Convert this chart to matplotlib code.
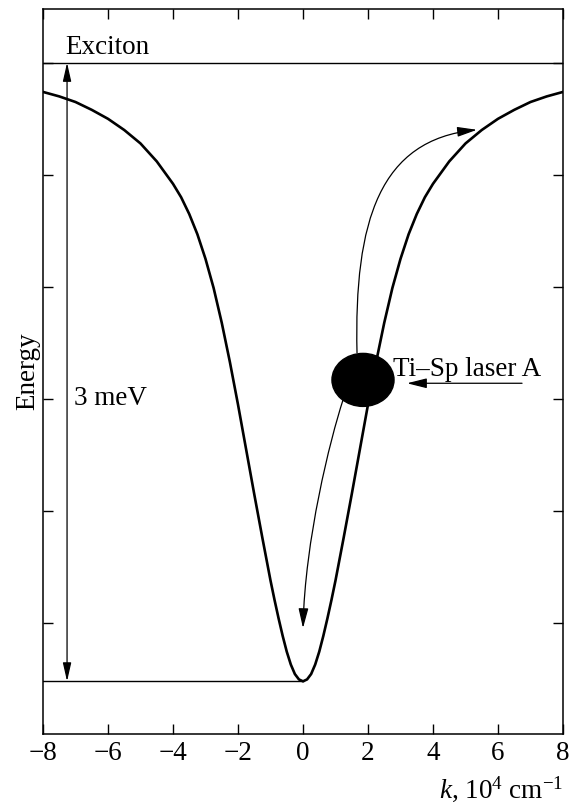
import matplotlib
matplotlib.use("Agg")
import matplotlib.pyplot as plt
from matplotlib.patches import Ellipse, FancyArrowPatch
from matplotlib.path import Path

# ---- data (energy in arbitrary units, 1 unit = one y tick) ----
k_right = [0, 0.125, 0.25, 0.375, 0.5, 0.625, 0.75, 0.875, 1.0, 1.25, 1.5, 1.75, 2.0,
           2.25, 2.5, 2.75, 3.0, 3.25, 3.5, 3.75, 4.0, 4.5, 5.0, 5.5, 6.0, 6.5, 7.0, 7.5, 8.0]
e_right = [0.48, 0.497, 0.545, 0.63, 0.745, 0.885, 1.04, 1.205, 1.38, 1.76, 2.15, 2.55, 2.95,
           3.33, 3.68, 3.99, 4.25, 4.47, 4.65, 4.80, 4.92, 5.12, 5.28, 5.40, 5.50, 5.58, 5.65, 5.70, 5.74]
k_left = [-8.0, -7.5, -7.0, -6.5, -6.0, -5.5, -5.0, -4.5, -4.0, -3.75, -3.5, -3.25, -3.0,
          -2.75, -2.5, -2.25, -2.0, -1.75, -1.5, -1.25, -1.0, -0.875, -0.75, -0.625, -0.5,
          -0.375, -0.25, -0.125]
e_left = [5.74, 5.70, 5.65, 5.58, 5.50, 5.40, 5.28, 5.12, 4.92, 4.80, 4.65, 4.47, 4.25,
          3.99, 3.68, 3.33, 2.95, 2.55, 2.15, 1.76, 1.38, 1.205, 1.04, 0.885, 0.745,
          0.63, 0.545, 0.497]

exciton_level = 6.0
bottom_level = 0.48
arrow_k = -7.26

x_ticks = [-8, -6, -4, -2, 0, 2, 4, 6, 8]
x_ticklabels = ["\u22128", "\u22126", "\u22124", "\u22122", "0", "2", "4", "6", "8"]
y_ticks = [1, 2, 3, 4, 5, 6]

plt.rcParams['font.family'] = ['Liberation Serif', 'DejaVu Serif']
plt.rcParams['mathtext.fontset'] = 'custom'
plt.rcParams['mathtext.rm'] = 'Liberation Serif'
plt.rcParams['mathtext.it'] = 'Liberation Serif:italic'

FS = 19.5

fig = plt.figure(figsize=(5.72, 8.06), dpi=100)
ax = fig.add_axes([43/572, 1-734/806, (563-43)/572, (734-9)/806])

ax.set_xlim(-8, 8)
ax.set_ylim(0.01, 6.48)

k_all = k_left + k_right
e_all = e_left + e_right
ax.plot(k_all, e_all, color='black', lw=1.9, solid_joinstyle='round')

# exciton level and bottom level
ax.axhline(exciton_level, color='black', lw=1.0)
ax.plot([-8, 0], [bottom_level, bottom_level], color='black', lw=1.0)

# 3 meV double arrow
ax.annotate('', xy=(arrow_k, exciton_level), xytext=(arrow_k, bottom_level),
            arrowprops=dict(arrowstyle='<|-|>,head_length=0.75,head_width=0.17',
                            mutation_scale=15, color='black', lw=0.9,
                            shrinkA=0, shrinkB=0))

# laser spot
ax.add_patch(Ellipse((1.846, 3.17), 1.91, 0.473, color='black', zorder=5))

# laser arrow
ax.annotate('', xy=(3.2, 3.14), xytext=(6.74, 3.14),
            arrowprops=dict(arrowstyle='-|>,head_length=0.8,head_width=0.2',
                            mutation_scale=15, color='black', lw=0.9,
                            shrinkA=0, shrinkB=0))

# upward scattering arc
up_path = Path([(1.662, 3.411), (1.569, 4.598), (2.369, 5.313), (5.354, 5.402)],
               [Path.MOVETO, Path.CURVE4, Path.CURVE4, Path.CURVE4])
ax.add_patch(FancyArrowPatch(path=up_path,
                             arrowstyle='-|>,head_length=0.8,head_width=0.2',
                             mutation_scale=15, color='black', lw=0.9))

# downward relaxation arc
down_path = Path([(1.231, 2.991), (0.831, 2.634), (0.062, 1.741), (0.0, 0.955)],
                 [Path.MOVETO, Path.CURVE4, Path.CURVE4, Path.CURVE4])
ax.add_patch(FancyArrowPatch(path=down_path,
                             arrowstyle='-|>,head_length=0.8,head_width=0.2',
                             mutation_scale=15, color='black', lw=0.9))

# texts
ax.text(-7.3, 6.08, 'Exciton', fontsize=FS, ha='left', va='baseline')
ax.text(-7.05, 2.95, '3 meV', fontsize=FS, ha='left', va='baseline')
ax.text(2.77, 3.205, 'Ti\u2013Sp laser A', fontsize=FS, ha='left', va='baseline')

ax.set_xticks(x_ticks)
ax.set_xticklabels(x_ticklabels)
ax.set_yticks(y_ticks)
ax.set_yticklabels([])
ax.tick_params(axis='both', which='major', direction='in', length=7.5, width=1.0,
               top=True, right=True, labelsize=FS, pad=5)
for s in ax.spines.values():
    s.set_linewidth(1.1)

fig.text(28/572, 1-371/806, 'Energy', fontsize=FS, rotation=90, ha='center', va='center')
fig.text(563/572, 1-798/806, '$k$, 10$^4$ cm$^{-1}$', fontsize=FS, ha='right', va='baseline')

fig.savefig('out.png', dpi=100)
